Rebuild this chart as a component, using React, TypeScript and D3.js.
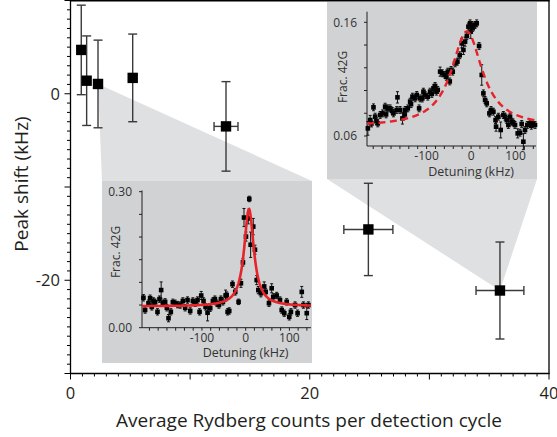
import React from "react";
import * as d3 from "d3";

// ---------- main data ----------
const counts = [0.9, 1.35, 2.3, 5.2, 13.0, 24.9, 35.9];
const countErr = [0, 0, 0, 0, 1.0, 2.05, 2.0];
const peakShift = [4.7, 1.4, 1.05, 1.7, -3.5, -14.55, -21.1];
const peakShiftErr = [4.8, 4.8, 4.7, 4.7, 4.8, 4.95, 5.2];
const xTickLabels = [0, 20, 40];
const yTickLabels = [0, -20];

// ---------- inset 1 (low density) : [detuning kHz, frac 42G, err] ----------
const inset1Points: [number, number, number][] = [
  [-233.7, 0.066, 0.007], [-229.9, 0.039, 0.007], [-222.2, 0.054, 0.007], [-218.4, 0.065, 0.007],
  [-214.6, 0.046, 0.007], [-210.8, 0.059, 0.007], [-207.0, 0.056, 0.007], [-201.6, 0.035, 0.007],
  [-197.0, 0.063, 0.007], [-193.2, 0.083, 0.018], [-189.4, 0.054, 0.007], [-184.1, 0.057, 0.007],
  [-180.2, 0.044, 0.007], [-176.4, 0.021, 0.008], [-171.1, 0.035, 0.007], [-166.5, 0.056, 0.007],
  [-161.2, 0.054, 0.007], [-155.8, 0.051, 0.007], [-149.7, 0.050, 0.007], [-143.6, 0.059, 0.007],
  [-138.3, 0.044, 0.007], [-132.9, 0.061, 0.007], [-126.8, 0.037, 0.007], [-120.7, 0.059, 0.007],
  [-115.4, 0.054, 0.007], [-110.0, 0.061, 0.007], [-105.4, 0.035, 0.007], [-101.6, 0.071, 0.009],
  [-96.3, 0.059, 0.007], [-91.7, 0.046, 0.007], [-87.1, 0.033, 0.018], [-81.0, 0.043, 0.007],
  [-74.9, 0.059, 0.007], [-70.3, 0.063, 0.007], [-65.8, 0.054, 0.007], [-61.2, 0.050, 0.007],
  [-56.6, 0.063, 0.007], [-52.0, 0.057, 0.007], [-45.9, 0.071, 0.012], [-43.4, 0.072, 0.007],
  [-41.3, 0.035, 0.007], [-37.5, 0.037, 0.007], [-30.1, 0.096, 0.007], [-23.8, 0.079, 0.007],
  [-16.2, 0.057, 0.006], [-10.8, 0.098, 0.009], [-6.2, 0.144, 0.008], [-3.8, 0.243, 0.02],
  [0.7, 0.201, 0.01], [6.0, 0.241, 0.012], [8.3, 0.284, 0.006], [11.4, 0.183, 0.028],
  [17.4, 0.223, 0.018], [21.3, 0.172, 0.01], [25.2, 0.105, 0.01], [28.9, 0.083, 0.008],
  [34.8, 0.076, 0.008], [42.4, 0.091, 0.01], [45.8, 0.079, 0.007], [53.3, 0.054, 0.007],
  [59.5, 0.087, 0.01], [63.1, 0.068, 0.007], [71.0, 0.071, 0.007], [78.5, 0.061, 0.007],
  [82.4, 0.039, 0.007], [88.3, 0.032, 0.007], [93.8, 0.057, 0.007], [99.7, 0.024, 0.007],
  [103.5, 0.035, 0.007], [113.0, 0.050, 0.007], [118.7, 0.032, 0.007], [128.3, 0.079, 0.012],
  [132.1, 0.050, 0.007], [139.7, 0.032, 0.014], [143.5, 0.050, 0.007],
];
const inset1Fit = { center: 7.6, hwhm: 13.4, base: 0.047, amp: 0.215 };

// ---------- inset 2 (high density) ----------
const inset2Points: [number, number, number][] = [
  [-232.1, 0.0667, 0.006], [-226.9, 0.0741, 0.004], [-223.9, 0.071, 0.003], [-219.4, 0.0852, 0.003],
  [-215.7, 0.077, 0.003], [-212.7, 0.073, 0.003], [-209.7, 0.0711, 0.003], [-204.4, 0.0785, 0.003],
  [-199.2, 0.0799, 0.003], [-193.2, 0.0858, 0.003], [-191.1, 0.079, 0.003], [-187.2, 0.0843, 0.003],
  [-182.0, 0.0843, 0.003], [-177.1, 0.082, 0.003], [-174.5, 0.0799, 0.003], [-167.0, 0.0829, 0.003],
  [-165.5, 0.094, 0.005], [-159.5, 0.0829, 0.003], [-154.3, 0.0755, 0.005], [-149.0, 0.079, 0.003],
  [-148.3, 0.0829, 0.003], [-142.3, 0.0843, 0.003], [-137.0, 0.0902, 0.003], [-135.0, 0.088, 0.003],
  [-131.8, 0.0946, 0.003], [-125.8, 0.0931, 0.003], [-122.1, 0.0961, 0.003], [-116.8, 0.0843, 0.003],
  [-114.6, 0.0931, 0.003], [-109.7, 0.093, 0.003], [-107.1, 0.099, 0.003], [-103.3, 0.0961, 0.003],
  [-97.3, 0.0946, 0.003], [-92.1, 0.099, 0.003], [-88.2, 0.097, 0.003], [-84.6, 0.1019, 0.003],
  [-80.9, 0.104, 0.003], [-77.9, 0.099, 0.003], [-74.9, 0.1005, 0.003], [-69.6, 0.1166, 0.004],
  [-64.4, 0.1151, 0.003], [-58.4, 0.1137, 0.003], [-55.4, 0.112, 0.003], [-52.4, 0.1166, 0.003],
  [-47.9, 0.108, 0.003], [-44.9, 0.1181, 0.003], [-41.2, 0.1166, 0.003], [-35.9, 0.1239, 0.003],
  [-30.7, 0.1254, 0.003], [-25.5, 0.131, 0.003], [-21.0, 0.1415, 0.004], [-17.2, 0.1357, 0.004],
  [-13.5, 0.143, 0.004], [-9.5, 0.148, 0.003], [-6.0, 0.1562, 0.003], [-2.2, 0.1591, 0.003],
  [-0.7, 0.1518, 0.006], [1.5, 0.1577, 0.003], [3.6, 0.155, 0.003], [5.2, 0.1562, 0.003],
  [9.0, 0.1577, 0.003], [12.7, 0.1591, 0.003], [18.0, 0.1392, 0.003], [24.0, 0.1137, 0.009],
  [27.7, 0.0975, 0.003], [31.5, 0.0917, 0.003], [35.2, 0.0887, 0.003], [41.2, 0.0799, 0.003],
  [44.9, 0.0829, 0.003], [50.2, 0.0814, 0.003], [55.0, 0.074, 0.003], [56.2, 0.0682, 0.004],
  [61.4, 0.077, 0.003], [66.6, 0.0653, 0.007], [72.6, 0.0785, 0.003], [76.4, 0.077, 0.003],
  [80.3, 0.074, 0.003], [83.9, 0.0697, 0.003], [87.6, 0.077, 0.003], [91.4, 0.0726, 0.003],
  [94.4, 0.072, 0.003], [98.8, 0.0697, 0.003], [104.8, 0.0623, 0.004], [110.1, 0.0629, 0.003],
  [113.8, 0.0706, 0.003], [117.6, 0.055, 0.007], [121.3, 0.0653, 0.003], [126.5, 0.0697, 0.003],
  [132.5, 0.0711, 0.003], [135.5, 0.069, 0.003], [138.5, 0.0711, 0.003], [143.8, 0.0697, 0.003],
];
const inset2Fit = { center: -9.5, hwhm: 42, base: 0.068, amp: 0.084 };
const insetXTickLabels = [-100, 0, 100];

const FONT = "'Open Sans', 'Noto Sans', sans-serif";
const TXT = "#231f20";
const INSET_BG = "#d1d2d3";
const WEDGE_BG = "#dfe0e1";
const RED = "#e8232a";

type Fit = { center: number; hwhm: number; base: number; amp: number };
const lorentz = (f: Fit, x: number) => f.base + f.amp / (1 + ((x - f.center) / f.hwhm) ** 2);

interface InsetProps {
  rect: { x: number; y: number; w: number; h: number };
  xDomain: [number, number];
  xRange: [number, number];
  yDomain: [number, number];
  yRange: [number, number];
  axisBottomVal: number;
  axisTopPx: number;
  yTicks: number[];
  yLabels: number[];
  xTicks: number[];
  points: [number, number, number][];
  fit: Fit;
  dashed: boolean;
  tickLabelY: number;
  titleY: number;
  fracX: number;
  fracY: number;
}

function Inset(p: InsetProps) {
  const xs = d3.scaleLinear().domain(p.xDomain).range(p.xRange);
  const ys = d3.scaleLinear().domain(p.yDomain).range(p.yRange);
  const axisY = ys(p.axisBottomVal);
  const x0 = p.xRange[0];
  const grid = d3.range(p.xDomain[0], p.xDomain[1] + 0.01, 1);
  const line = d3
    .line<number>()
    .x((d) => xs(d))
    .y((d) => ys(lorentz(p.fit, d)))(grid) as string;
  const fmt = d3.format(".2f");
  return (
    <g>
      <rect x={p.rect.x} y={p.rect.y} width={p.rect.w} height={p.rect.h} fill={INSET_BG} />
      <line x1={x0} x2={x0} y1={axisY} y2={p.axisTopPx} stroke={TXT} strokeWidth={1} />
      <line x1={x0} x2={p.xRange[1]} y1={axisY} y2={axisY} stroke={TXT} strokeWidth={1} />
      {p.yTicks.map((t, i) => (
        <line key={"yt" + i} x1={x0 - 3} x2={x0} y1={ys(t)} y2={ys(t)} stroke={TXT} strokeWidth={1} />
      ))}
      {p.xTicks.map((t, i) => (
        <line key={"xt" + i} x1={xs(t)} x2={xs(t)} y1={axisY} y2={axisY + 3} stroke={TXT} strokeWidth={1} />
      ))}
      {p.yLabels.map((t, i) => (
        <text key={"yl" + i} x={x0 - 10} y={ys(t)} dy="0.35em" textAnchor="end" fontSize={12} fill="#333" fontFamily={FONT}>
          {fmt(t)}
        </text>
      ))}
      {insetXTickLabels.map((t, i) => (
        <text key={"xl" + i} x={xs(t)} y={p.tickLabelY} dy="0.35em" textAnchor="middle" fontSize={12} fill="#333" fontFamily={FONT}>
          {t}
        </text>
      ))}
      <text x={xs(0)} y={p.titleY} textAnchor="middle" fontSize={12.5} fill="#333" fontFamily={FONT}>
        Detuning (kHz)
      </text>
      <text
        transform={`translate(${p.fracX},${p.fracY}) rotate(-90)`}
        dy="0.35em"
        textAnchor="middle"
        fontSize={12}
        fill="#333"
        fontFamily={FONT}
      >
        Frac. 42G
      </text>
      {p.points.map(([dx, dy, e], i) => {
        const cx = xs(dx);
        const cy = ys(dy);
        const top = ys(dy + e);
        const bot = ys(dy - e);
        return (
          <g key={"p" + i}>
            <line x1={cx} x2={cx} y1={top} y2={bot} stroke="#111" strokeWidth={1} />
            <line x1={cx - 1.5} x2={cx + 1.5} y1={top} y2={top} stroke="#111" strokeWidth={1} />
            <line x1={cx - 1.5} x2={cx + 1.5} y1={bot} y2={bot} stroke="#111" strokeWidth={1} />
            <rect x={cx - 2.3} y={cy - 2.3} width={4.6} height={4.6} fill="#000" />
          </g>
        );
      })}
      <path
        d={line}
        fill="none"
        stroke={RED}
        strokeWidth={p.dashed ? 2.4 : 2.6}
        strokeDasharray={p.dashed ? "7 4.5" : undefined}
      />
    </g>
  );
}

export default function App() {
  const W = 557;
  const H = 437;
  const x = d3.scaleLinear().domain([0, 40]).range([70.5, 549]);
  const y = d3.scaleLinear().domain([-30, 10]).range([373.5, 0.5]);

  const xMinor = d3.range(0, 41, 1);
  const yMinor = d3.range(-30, 11, 1);

  const inset1 = { x: 102, y: 181, w: 210, h: 182 };
  const inset2 = { x: 327, y: 2, w: 210, h: 177 };

  const p3 = [x(counts[2]), y(peakShift[2])];
  const p7 = [x(counts[6]), y(peakShift[6])];

  return (
    <svg width={W} height={H} style={{ position: "absolute", left: 0, top: 0, background: "#fff" }}>
      <polygon
        points={`${p3[0]},${p3[1]} ${inset1.x},${inset1.y} ${inset1.x + inset1.w},${inset1.y}`}
        fill={WEDGE_BG}
      />
      <polygon
        points={`${p7[0]},${p7[1]} ${inset2.x},${inset2.y + inset2.h} ${inset2.x + inset2.w},${inset2.y + inset2.h}`}
        fill={WEDGE_BG}
      />

      <Inset
        rect={inset1}
        xDomain={[-237, 149.4]}
        xRange={[142, 311]}
        yDomain={[0, 0.3]}
        yRange={[327.7, 191.7]}
        axisBottomVal={0}
        axisTopPx={190.5}
        yTicks={d3.range(0, 0.301, 0.05)}
        yLabels={[0, 0.3]}
        xTicks={d3.range(-220, 150, 20)}
        points={inset1Points}
        fit={inset1Fit}
        dashed={false}
        tickLabelY={337.5}
        titleY={357}
        fracX={116}
        fracY={252}
      />
      <Inset
        rect={inset2}
        xDomain={[-234, 146]}
        xRange={[367, 536]}
        yDomain={[0.06, 0.16]}
        yRange={[136, 22.3]}
        axisBottomVal={0.0512}
        axisTopPx={11.7}
        yTicks={d3.range(0.06, 0.1601, 0.02)}
        yLabels={[0.06, 0.16]}
        xTicks={d3.range(-220, 146, 20)}
        points={inset2Points}
        fit={inset2Fit}
        dashed={true}
        tickLabelY={156}
        titleY={175.5}
        fracX={343}
        fracY={77}
      />

      <line x1={70.5} x2={70.5} y1={0} y2={374} stroke="#000" strokeWidth={1.3} />
      <line x1={70} x2={549.5} y1={373.5} y2={373.5} stroke="#000" strokeWidth={1.3} />
      <line x1={70} x2={549.5} y1={0.7} y2={0.7} stroke="#000" strokeWidth={1.4} />
      <line x1={549} x2={549} y1={0} y2={374} stroke="#000" strokeWidth={1.3} />

      {xMinor.map((t) => (
        <line
          key={"xm" + t}
          x1={x(t)}
          x2={x(t)}
          y1={373.5}
          y2={373.5 + (t % 10 === 0 ? 6 : 3)}
          stroke="#000"
          strokeWidth={1}
        />
      ))}
      {yMinor.map((t) => (
        <line
          key={"ym" + t}
          x1={70.5 - (t % 10 === 0 ? 6 : 3.5)}
          x2={70.5}
          y1={y(t)}
          y2={y(t)}
          stroke="#000"
          strokeWidth={1}
        />
      ))}
      {xTickLabels.map((t) => (
        <text key={"xl" + t} x={x(t)} y={398.5} textAnchor="middle" fontSize={16.5} fill={TXT} fontFamily={FONT}>
          {t}
        </text>
      ))}
      {yTickLabels.map((t) => (
        <text key={"yl" + t} x={60} y={y(t)} dy="0.36em" textAnchor="end" fontSize={16.5} fill={TXT} fontFamily={FONT}>
          {t}
        </text>
      ))}
      <text x={309} y={427} textAnchor="middle" fontSize={19} fill={TXT} fontFamily={FONT}>
        Average Rydberg counts per detection cycle
      </text>
      <text
        transform={`translate(28,184) rotate(-90)`}
        textAnchor="middle"
        fontSize={19}
        fill={TXT}
        fontFamily={FONT}
      >
        Peak shift (kHz)
      </text>

      {counts.map((c, i) => {
        const cx = x(c);
        const cy = y(peakShift[i]);
        const top = y(peakShift[i] + peakShiftErr[i]);
        const bot = y(peakShift[i] - peakShiftErr[i]);
        const hx = countErr[i];
        return (
          <g key={"m" + i}>
            <line x1={cx} x2={cx} y1={top} y2={bot} stroke="#3a3a3a" strokeWidth={1.4} />
            <line x1={cx - 4.5} x2={cx + 4.5} y1={top} y2={top} stroke="#3a3a3a" strokeWidth={1.4} />
            <line x1={cx - 4.5} x2={cx + 4.5} y1={bot} y2={bot} stroke="#3a3a3a" strokeWidth={1.4} />
            {hx > 0 && (
              <g>
                <line x1={x(c - hx)} x2={x(c + hx)} y1={cy} y2={cy} stroke="#3a3a3a" strokeWidth={1.4} />
                <line x1={x(c - hx)} x2={x(c - hx)} y1={cy - 4.5} y2={cy + 4.5} stroke="#3a3a3a" strokeWidth={1.4} />
                <line x1={x(c + hx)} x2={x(c + hx)} y1={cy - 4.5} y2={cy + 4.5} stroke="#3a3a3a" strokeWidth={1.4} />
              </g>
            )}
            <rect x={cx - 5.2} y={cy - 5.2} width={10.4} height={10.4} fill="#000" />
          </g>
        );
      })}
    </svg>
  );
}
